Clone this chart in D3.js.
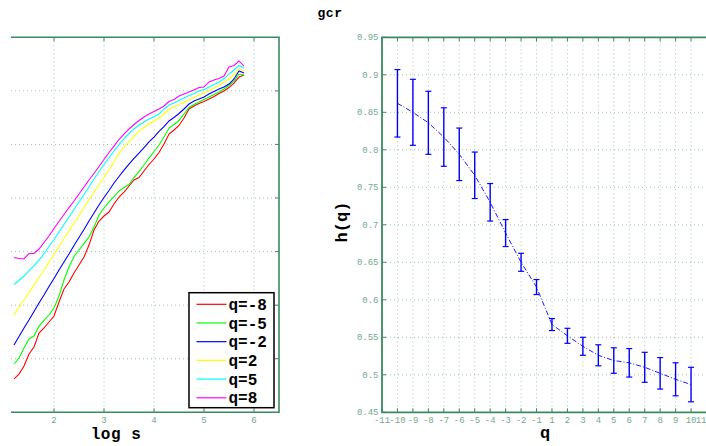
<!DOCTYPE html>
<html>
<head>
<meta charset="utf-8">
<script src="https://cdnjs.cloudflare.com/ajax/libs/d3/7.8.5/d3.min.js"></script>
<style>
	body { margin: 0; background: #fff; }
	svg { display: block; font-family: "Liberation Mono", "DejaVu Sans Mono", monospace; }
</style>
</head>
<body>
<svg id="chart" width="706" height="446"></svg>
<script>
// ---- left panel: fluctuation function vs log s
let logS = [1.2, 1.3, 1.4, 1.5, 1.6, 1.7, 1.8, 1.9, 2.0, 2.1, 2.2, 2.3, 2.4, 2.5, 2.6, 2.7, 2.8, 2.9, 3.0, 3.1, 3.2, 3.3, 3.4, 3.5, 3.6, 3.7, 3.8, 3.9, 4.0, 4.1, 4.2, 4.3, 4.4, 4.5, 4.6, 4.7, 4.8, 4.9, 5.0, 5.1, 5.2, 5.3, 5.4, 5.5, 5.6, 5.7, 5.8];
let fqM8 = [-1.189, -1.143, -1.068, -0.956, -0.891, -0.760, -0.713, -0.657, -0.601, -0.471, -0.349, -0.284, -0.200, -0.125, -0.051, 0.061, 0.201, 0.285, 0.332, 0.369, 0.444, 0.509, 0.556, 0.612, 0.668, 0.691, 0.752, 0.813, 0.864, 0.925, 1.004, 1.097, 1.135, 1.177, 1.247, 1.331, 1.359, 1.382, 1.401, 1.424, 1.447, 1.475, 1.499, 1.531, 1.573, 1.629, 1.648];
let fqM5 = [-1.049, -0.993, -0.900, -0.816, -0.788, -0.695, -0.643, -0.592, -0.527, -0.415, -0.265, -0.144, -0.046, 0.015, 0.075, 0.136, 0.229, 0.341, 0.407, 0.463, 0.514, 0.565, 0.598, 0.626, 0.691, 0.747, 0.808, 0.873, 0.934, 0.995, 1.069, 1.153, 1.186, 1.223, 1.284, 1.345, 1.373, 1.396, 1.419, 1.443, 1.466, 1.489, 1.517, 1.550, 1.592, 1.657, 1.648];
let fqM2 = [-0.872, -0.793, -0.713, -0.639, -0.559, -0.480, -0.405, -0.326, -0.251, -0.172, -0.097, -0.023, 0.057, 0.131, 0.206, 0.285, 0.360, 0.435, 0.505, 0.570, 0.640, 0.701, 0.761, 0.817, 0.869, 0.920, 0.971, 1.023, 1.069, 1.121, 1.167, 1.219, 1.251, 1.289, 1.331, 1.377, 1.405, 1.424, 1.443, 1.471, 1.494, 1.517, 1.536, 1.564, 1.611, 1.685, 1.667];
let fqP2 = [-0.592, -0.522, -0.452, -0.382, -0.312, -0.242, -0.172, -0.097, -0.027, 0.047, 0.122, 0.192, 0.267, 0.337, 0.411, 0.486, 0.556, 0.626, 0.696, 0.766, 0.836, 0.920, 0.976, 1.027, 1.074, 1.125, 1.158, 1.191, 1.219, 1.247, 1.284, 1.326, 1.349, 1.373, 1.391, 1.415, 1.438, 1.461, 1.480, 1.503, 1.527, 1.550, 1.583, 1.611, 1.648, 1.704, 1.685];
let fqP5 = [-0.307, -0.270, -0.228, -0.177, -0.130, -0.079, -0.018, 0.047, 0.113, 0.183, 0.253, 0.323, 0.393, 0.463, 0.533, 0.603, 0.677, 0.747, 0.813, 0.878, 0.939, 0.999, 1.055, 1.102, 1.144, 1.181, 1.209, 1.237, 1.261, 1.284, 1.331, 1.368, 1.387, 1.410, 1.433, 1.457, 1.475, 1.499, 1.513, 1.536, 1.559, 1.583, 1.615, 1.657, 1.695, 1.737, 1.713];
let fqP8 = [-0.055, -0.065, -0.069, -0.018, -0.018, 0.024, 0.085, 0.145, 0.215, 0.281, 0.346, 0.411, 0.472, 0.537, 0.603, 0.668, 0.729, 0.794, 0.859, 0.925, 0.985, 1.046, 1.097, 1.144, 1.186, 1.223, 1.256, 1.284, 1.307, 1.331, 1.359, 1.401, 1.419, 1.452, 1.471, 1.489, 1.508, 1.531, 1.536, 1.583, 1.601, 1.615, 1.639, 1.723, 1.737, 1.779, 1.732];
let seriesNames = ['q=-8', 'q=-5', 'q=-2', 'q=2', 'q=5', 'q=8'];
let seriesColors = ['#ff0000', '#00ff00', '#0000ff', '#ffff00', '#00ffff', '#ff00ff'];
let logSTicks = [2, 3, 4, 5, 6];
let fTicks = [-1, -0.5, 0, 0.5, 1, 1.5];

// ---- right panel: generalized Hurst exponent
let qValues = [-10, -9, -8, -7, -6, -5, -4, -3, -2, -1, 1, 2, 3, 4, 5, 6, 7, 8, 9, 10];
let hq = [0.862, 0.850, 0.836, 0.817, 0.794, 0.766, 0.730, 0.689, 0.650, 0.617, 0.567, 0.552, 0.538, 0.526, 0.519, 0.516, 0.510, 0.502, 0.494, 0.487];
let hqErr = [0.045, 0.044, 0.042, 0.039, 0.035, 0.031, 0.025, 0.018, 0.012, 0.010, 0.008, 0.010, 0.012, 0.014, 0.017, 0.019, 0.020, 0.021, 0.022, 0.023];
let qTickLabels = ['-11', '-10', '-9', '-8', '-7', '-6', '-5', '-4', '-3', '-2', '-1', '1', '2', '3', '4', '5', '6', '7', '8', '9', '10', '11'];
let hTicks = [0.45, 0.5, 0.55, 0.6, 0.65, 0.7, 0.75, 0.8, 0.85, 0.9, 0.95];

let allSeries = [fqM8, fqM5, fqM2, fqP2, fqP5, fqP8];

let axisColor = '#3b8a5f';
let labelColor = '#72a98c';
let gridColor = '#a3c4b3';
let plotTop = 37.3, plotBottom = 412.3;

let svg = d3.select('svg#chart');

// title
svg.append('text')
	.attr('x', 330).attr('y', 17)
	.attr('text-anchor', 'middle')
	.attr('font-size', 13).attr('font-weight', 'bold')
	.attr('letter-spacing', 0.5)
	.text('gcr');

drawLeft();
drawRight();

function drawLeft() {
	let x = d3.scaleLinear([1.14, 6.5], [11, 279]);
	let y = d3.scaleLinear([-1.5, 2], [plotBottom, plotTop]);
	let g = svg.append('g');

	// grid
	g.selectAll('line.gx').data(logSTicks).join('line')
		.attr('x1', d => x(d)).attr('x2', d => x(d))
		.attr('y1', plotTop).attr('y2', plotBottom)
		.attr('stroke', gridColor).attr('stroke-dasharray', '1,3');
	g.selectAll('line.gy').data(fTicks).join('line')
		.attr('x1', x.range()[0]).attr('x2', x.range()[1])
		.attr('y1', d => y(d)).attr('y2', d => y(d))
		.attr('stroke', gridColor).attr('stroke-dasharray', '1,3');

	// curves
	let line = d3.line()
		.x((d, i) => x(logS[i]))
		.y(d => y(d));
	g.selectAll('path.curve').data(allSeries).join('path')
		.attr('fill', 'none')
		.attr('stroke', (d, i) => seriesColors[i])
		.attr('stroke-width', 1.1)
		.attr('d', line);

	// frame (no left edge, it is cut off)
	g.append('path')
		.attr('fill', 'none').attr('stroke', axisColor).attr('stroke-width', 1.6)
		.attr('d', 'M' + x.range()[0] + ',' + plotTop + 'H' + x.range()[1] + 'V' + plotBottom + 'H' + x.range()[0]);

	// tick marks, pointing inward
	logSTicks.forEach(function (t) {
		g.append('line').attr('x1', x(t)).attr('x2', x(t)).attr('y1', plotBottom).attr('y2', plotBottom - 4).attr('stroke', axisColor);
		g.append('line').attr('x1', x(t)).attr('x2', x(t)).attr('y1', plotTop).attr('y2', plotTop + 4).attr('stroke', axisColor);
	});
	fTicks.forEach(function (t) {
		g.append('line').attr('x1', x.range()[1]).attr('x2', x.range()[1] - 4).attr('y1', y(t)).attr('y2', y(t)).attr('stroke', axisColor);
	});

	g.selectAll('text.xt').data(logSTicks).join('text')
		.attr('x', d => x(d)).attr('y', plotBottom + 10.5)
		.attr('text-anchor', 'middle')
		.attr('font-size', 9).attr('fill', labelColor)
		.text(d => d);

	g.append('text')
		.attr('x', 116).attr('y', 438.5)
		.attr('text-anchor', 'middle')
		.attr('font-size', 16).attr('font-weight', 'bold')
		.attr('letter-spacing', 0.5)
		.text('log s');

	// legend
	let lg = g.append('g').attr('transform', 'translate(189,292.7)');
	lg.append('rect')
		.attr('width', 85).attr('height', 115)
		.attr('fill', '#fff').attr('stroke', '#000').attr('stroke-width', 1.5);
	let rows = lg.selectAll('g.row').data(seriesNames).join('g')
		.attr('transform', (d, i) => 'translate(0,' + (11.6 + i * 18.7) + ')');
	rows.append('line')
		.attr('x1', 7.5).attr('x2', 37.5)
		.attr('stroke', (d, i) => seriesColors[i]).attr('stroke-width', 1.2);
	rows.append('text')
		.attr('x', 39.5).attr('y', 5.5)
		.attr('font-size', 16).attr('font-weight', 'bold')
		.text(d => d);
}

function drawRight() {
	let x = d3.scalePoint(qTickLabels, [382, 706.5]);
	let y = d3.scaleLinear([0.45, 0.95], [plotBottom, plotTop]);
	let g = svg.append('g');

	// grid
	g.selectAll('line.gx').data(qTickLabels.slice(1, -1)).join('line')
		.attr('x1', d => x(d)).attr('x2', d => x(d))
		.attr('y1', plotTop).attr('y2', plotBottom)
		.attr('stroke', gridColor).attr('stroke-dasharray', '1,3');
	g.selectAll('line.gy').data(hTicks.slice(1, -1)).join('line')
		.attr('x1', 382).attr('x2', 706)
		.attr('y1', d => y(d)).attr('y2', d => y(d))
		.attr('stroke', gridColor).attr('stroke-dasharray', '1,3');

	// dash-dot line through h(q)
	let pts = qValues.map((q, i) => [x(String(q)), y(hq[i])]);
	g.append('path')
		.attr('fill', 'none').attr('stroke', '#0000ff').attr('stroke-width', 0.9)
		.attr('stroke-dasharray', '5,2,1,2')
		.attr('d', d3.line()(pts));

	// error bars
	let bars = g.selectAll('g.bar').data(qValues).join('g');
	bars.append('line')
		.attr('x1', d => x(String(d))).attr('x2', d => x(String(d)))
		.attr('y1', (d, i) => y(hq[i] - hqErr[i])).attr('y2', (d, i) => y(hq[i] + hqErr[i]))
		.attr('stroke', '#0000ff').attr('stroke-width', 1.4);
	[-1, 1].forEach(function (s) {
		bars.append('line')
			.attr('x1', d => x(String(d)) - 3).attr('x2', d => x(String(d)) + 3)
			.attr('y1', (d, i) => y(hq[i] + s * hqErr[i])).attr('y2', (d, i) => y(hq[i] + s * hqErr[i]))
			.attr('stroke', '#0000ff').attr('stroke-width', 1.2);
	});

	// frame
	g.append('path')
		.attr('fill', 'none').attr('stroke', axisColor).attr('stroke-width', 1.8)
		.attr('d', 'M706,' + plotTop + 'H382V' + plotBottom + 'H706');

	qTickLabels.forEach(function (t) {
		g.append('line').attr('x1', x(t)).attr('x2', x(t)).attr('y1', plotBottom).attr('y2', plotBottom - 4).attr('stroke', axisColor);
		g.append('line').attr('x1', x(t)).attr('x2', x(t)).attr('y1', plotTop).attr('y2', plotTop + 4).attr('stroke', axisColor);
	});
	hTicks.forEach(function (t) {
		g.append('line').attr('x1', 382).attr('x2', 386).attr('y1', y(t)).attr('y2', y(t)).attr('stroke', axisColor);
	});

	// last label sits at the window edge, as in the original figure
	g.selectAll('text.xt').data(qTickLabels).join('text')
		.attr('x', d => x(d)).attr('y', plotBottom + 10.5)
		.attr('text-anchor', (d, i) => i == qTickLabels.length - 1 ? 'end' : 'middle')
		.attr('font-size', 9).attr('fill', labelColor)
		.text(d => d);
	g.selectAll('text.yt').data(hTicks).join('text')
		.attr('x', 378.5).attr('y', d => y(d)).attr('dy', '0.35em')
		.attr('text-anchor', 'end')
		.attr('font-size', 9).attr('fill', labelColor)
		.text(d => d3.format('')(d));

	g.append('text')
		.attr('x', 545).attr('y', 438)
		.attr('text-anchor', 'middle')
		.attr('font-size', 17).attr('font-weight', 'bold')
		.text('q');
	g.append('text')
		.attr('transform', 'translate(347,222) rotate(-90)')
		.attr('text-anchor', 'middle')
		.attr('font-size', 17).attr('font-weight', 'bold')
		.text('h(q)');
}
</script>
</body>
</html>
